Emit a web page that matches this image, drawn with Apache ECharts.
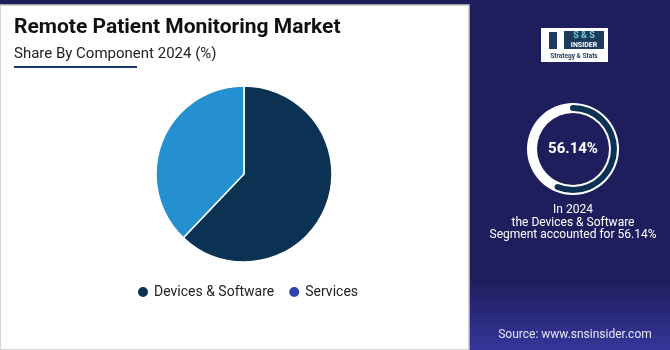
<!DOCTYPE html>
<html><head><meta charset="utf-8">
<script src="https://cdn.jsdelivr.net/npm/echarts@6/dist/echarts.min.js"></script>
<style>html,body{margin:0;padding:0;background:#fff}#c{width:670px;height:350px}</style>
</head><body><div id="c"></div>
<script>
const categories = ['Devices & Software', 'Services'];
const shares = [62.1, 37.9];
const highlightValue = 56.14;
const titleText = 'Remote Patient Monitoring Market';
const subtitleText = 'Share By Component 2024 (%)';
const noteLines = ['In 2024', 'the Devices & Software', 'Segment accounted for 56.14%'];
const sourceText = 'Source: www.snsinsider.com';

const sliceColors = ['#0c3253', '#2490d0'];
const legendColors = ['#0c3253', '#2d45aa'];
const navy = '#1f1e5c';

const chart = echarts.init(document.getElementById('c'));
chart.setOption({
  animation: false,
  textStyle: { fontFamily: 'Roboto' },
  graphic: [
    { type: 'rect', z: -10, shape: { x: 0, y: 0, width: 670, height: 350 }, style: { fill: navy } },
    { type: 'rect', z: -9, shape: { x: 469, y: 280, width: 201, height: 70 },
      style: { fill: { type: 'linear', x: 0, y: 0, x2: 0, y2: 1, colorStops: [{ offset: 0, color: navy }, { offset: 1, color: '#34369a' }] } } },
    { type: 'rect', z: -8, shape: { x: 0, y: 5, width: 469, height: 345 }, style: { fill: '#fff', stroke: '#c8c8c8', lineWidth: 1.5 } },
    { type: 'text', left: 14, top: 17, style: { text: titleText, font: 'bold 21px Roboto', fill: '#111' } },
    { type: 'text', left: 14, top: 47, style: { text: subtitleText, font: '15px Roboto', fill: '#222' } },
    { type: 'rect', shape: { x: 14, y: 66, width: 123, height: 2 }, style: { fill: '#1c3a6b' } },
    // logo
    { type: 'rect', shape: { x: 541, y: 28, width: 67, height: 34 }, style: { fill: '#fff' } },
    { type: 'rect', shape: { x: 564, y: 31, width: 40, height: 18 }, style: { fill: '#1d3b5c' } },
    { type: 'text', x: 584, y: 36, style: { text: 'S & S', font: 'bold 9px Roboto', fill: '#6fd0d6', align: 'center', verticalAlign: 'middle' } },
    { type: 'text', x: 584, y: 45, style: { text: 'INSIDER', font: 'bold 7px Roboto', fill: '#fff', align: 'center', verticalAlign: 'middle' } },
    { type: 'text', x: 574, y: 56, style: { text: 'Strategy & Stats', font: 'bold 6.5px Roboto', fill: '#1d3b5c', align: 'center', verticalAlign: 'middle' } },
    { type: 'rect', shape: { x: 549, y: 32, width: 8, height: 17 }, style: { fill: '#1d3b5c' } },
    // center & notes
    { type: 'text', x: 573, y: 149, style: { text: highlightValue.toFixed(2) + '%', font: 'bold 15px Roboto', fill: '#fff', align: 'center', verticalAlign: 'middle' } },
    { type: 'text', x: 573, y: 204, style: { text: noteLines.join('\n'), font: '12px Roboto', lineHeight: 12.5, fill: '#fff', align: 'center', verticalAlign: 'top' } },
    { type: 'text', x: 575, y: 335, style: { text: sourceText, font: '12px Roboto', fill: '#e6e6f5', align: 'center', verticalAlign: 'middle' } }
  ],
  legend: {
    bottom: 46, left: 131,
    itemWidth: 12, itemHeight: 12, itemGap: 13,
    icon: 'circle',
    textStyle: { fontSize: 14, color: '#222', fontFamily: 'Roboto' },
    data: categories.map((n, i) => ({ name: n, itemStyle: { color: legendColors[i] } }))
  },
  series: [
    {
      type: 'pie', center: [244, 174], radius: [0, 88], startAngle: 90, clockwise: true,
      label: { show: false }, labelLine: { show: false }, silent: true,
      itemStyle: { borderColor: '#fff', borderWidth: 1.5 },
      data: categories.map((n, i) => ({ name: n, value: shares[i], itemStyle: { color: sliceColors[i] } }))
    },
    {
      type: 'gauge', center: [573, 149], radius: 46, startAngle: 90, endAngle: -270, min: 0, max: 100,
      pointer: { show: false }, axisTick: { show: false }, splitLine: { show: false }, axisLabel: { show: false },
      detail: { show: false }, title: { show: false },
      axisLine: { lineStyle: { width: 10, color: [[1, '#ffffff']] } },
      progress: { show: false },
      data: [{ value: 0 }]
    },
    {
      type: 'gauge', center: [573, 149], radius: 44, startAngle: 90, endAngle: -270, min: 0, max: 100,
      pointer: { show: false }, axisTick: { show: false }, splitLine: { show: false }, axisLabel: { show: false },
      detail: { show: false }, title: { show: false },
      axisLine: { lineStyle: { width: 6, color: [[1, 'rgba(0,0,0,0)']] } },
      progress: { show: true, roundCap: true, width: 6, itemStyle: { color: '#0c3253' } },
      data: [{ value: highlightValue }]
    }
  ]
});
</script></body></html>
